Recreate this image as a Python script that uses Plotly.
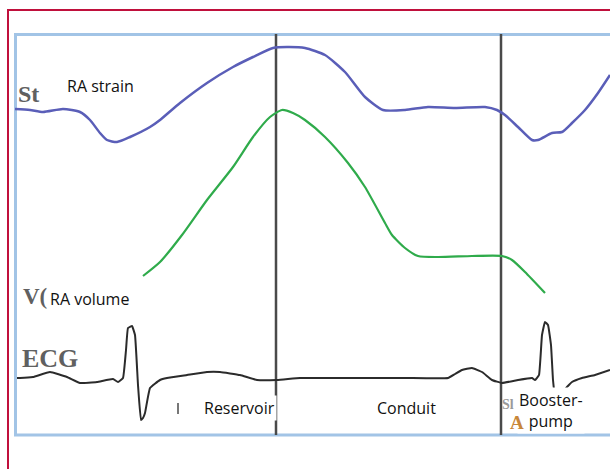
import plotly.graph_objects as go

# ---- Data (x = time units, y = screen-like amplitude units) ----
strain_t = [15, 30, 43, 63, 80, 90, 100, 107, 117, 130, 150, 160, 180, 207, 233, 253, 273, 287, 305,
            325, 345, 365, 383, 405, 428, 455, 485, 497, 505, 518, 532, 538, 552, 562, 572, 585, 598, 610]
strain_v = [109, 110, 112, 109, 112, 120, 133, 140, 142, 137, 127, 120, 103, 83, 67, 57, 48, 47, 48,
            55, 72, 97, 110, 110, 107, 108, 107, 110, 115, 127, 140, 140, 133, 132, 123, 110, 93, 75]

volume_t = [143, 160, 182, 207, 233, 253, 270, 282, 293, 305, 325, 348, 365, 385, 392, 405, 418, 438,
            472, 502, 512, 525, 545]
volume_v = [276, 262, 235, 200, 167, 137, 117, 110, 113, 120, 137, 163, 187, 223, 235, 248, 256, 257,
            256, 256, 260, 272, 293]

ecg_t = [17, 20, 33, 50, 67, 80, 97, 113, 118, 123, 126, 128, 132, 135, 138, 141, 143, 145, 150, 160,
         167, 187, 207, 220, 240, 257, 277, 300, 330, 405, 448, 455, 462, 472, 482, 492, 502, 518, 532,
         535, 539, 542, 545, 548, 551, 553, 555, 559, 563, 566, 572, 582, 595, 610]
ecg_v = [378, 378, 377, 372, 377, 383, 382, 379, 382, 378, 350, 328, 326, 335, 385, 420, 418, 413, 388,
         380, 378, 375, 372, 372, 375, 380, 380, 378, 378, 378, 378, 374, 370, 368, 372, 380, 383, 380,
         378, 380, 375, 335, 322, 325, 345, 380, 395, 396, 393, 388, 382, 378, 375, 370]

phase_lines_t = [276, 501]

labels = ["RA strain", "RA volume", "Reservoir", "Conduit", "Booster-<br>pump"]
label_t = [100, 89, 239, 406, 551]
label_v = [86, 299, 408, 408, 410]

fig = go.Figure()

fig.add_trace(go.Scatter(x=strain_t, y=strain_v, mode="lines", line=dict(color="#5a5eb8", width=2.5, shape="spline", smoothing=0.6), hoverinfo="skip"))
fig.add_trace(go.Scatter(x=volume_t, y=volume_v, mode="lines", line=dict(color="#2fab4b", width=2.2, shape="spline", smoothing=0.6), hoverinfo="skip"))
fig.add_trace(go.Scatter(x=ecg_t, y=ecg_v, mode="lines", line=dict(color="#2b2b2b", width=2, shape="spline", smoothing=0.3), hoverinfo="skip"))

shapes = []
# outer red frame
shapes.append(dict(type="rect", x0=8, x1=640, y0=10, y1=520, line=dict(color="#c0103c", width=2), layer="below"))
# inner light blue frame
shapes.append(dict(type="rect", x0=15.5, x1=640, y0=34.5, y1=435, line=dict(color="#a2c4e6", width=3), layer="below"))
for t in phase_lines_t:
    shapes.append(dict(type="line", x0=t, x1=t, y0=34, y1=435, line=dict(color="#4a4a4a", width=2.5), layer="below"))
# small tick marks
shapes.append(dict(type="line", x0=178, x1=178, y0=403, y1=414, line=dict(color="#777777", width=2)))

annotations = []
# scanned serif letters
annotations.append(dict(x=16, y=94, text="<b>St</b>", showarrow=False, xanchor="left", yanchor="middle",
                        font=dict(family="Liberation Serif", size=24, color="#606060")))
annotations.append(dict(x=21, y=296, text="<b>V(</b>", showarrow=False, xanchor="left", yanchor="middle",
                        font=dict(family="Liberation Serif", size=23, color="#606060")))
annotations.append(dict(x=20, y=358, text="<b>ECG</b>", showarrow=False, xanchor="left", yanchor="middle",
                        font=dict(family="Liberation Serif", size=26, color="#606060")))

for txt, t, v in zip(labels, label_t, label_v):
    annotations.append(dict(x=t, y=v, text=txt, showarrow=False, xanchor="center", yanchor="middle",
                            bgcolor="white" if txt != "RA strain" else "rgba(0,0,0,0)",
                            borderpad=1,
                            font=dict(family="Open Sans", size=16, color="#111111")))

annotations.append(dict(x=500, y=404, text="<b>Sl</b>", showarrow=False, xanchor="left", yanchor="middle",
                        font=dict(family="Liberation Serif", size=14, color="#9a9a9a")))
annotations.append(dict(x=508, y=422, text="<b>A</b>", showarrow=False, xanchor="left", yanchor="middle",
                        font=dict(family="Liberation Serif", size=19, color="#c8873a")))

fig.update_layout(
    width=610, height=469,
    margin=dict(l=0, r=0, t=0, b=0),
    paper_bgcolor="white", plot_bgcolor="white",
    showlegend=False,
    xaxis=dict(range=[0, 610], visible=False, fixedrange=True),
    yaxis=dict(range=[469, 0], visible=False, fixedrange=True),
    shapes=shapes, annotations=annotations,
)

fig.write_html("out.html", config={"displayModeBar": False},
               post_script="document.body.style.margin='0';")
